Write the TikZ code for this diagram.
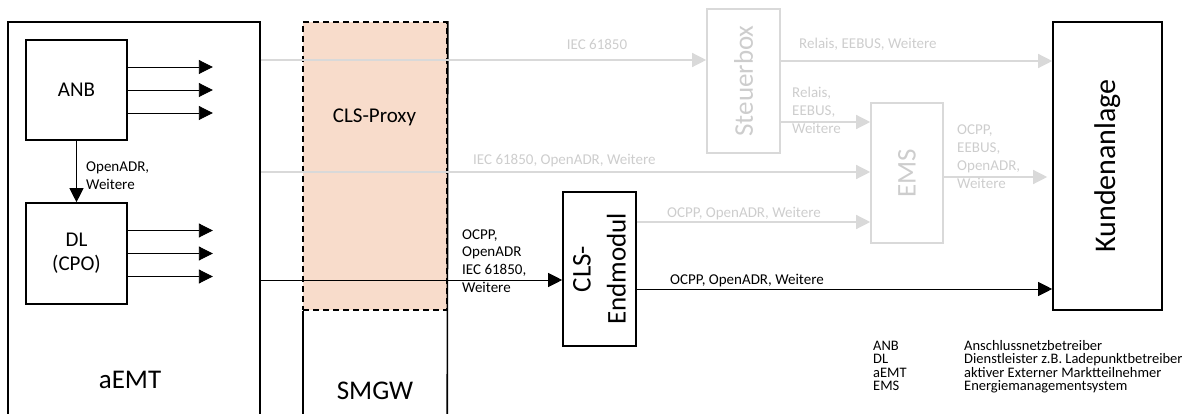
\documentclass[tikz,border=0pt]{standalone}
\usepackage{fontspec}
\setmainfont{Carlito}
\usetikzlibrary{arrows.meta}

\definecolor{proxyfill}{HTML}{F8DCCB}
\definecolor{lightline}{HTML}{D9D9D9}
\definecolor{lighttext}{HTML}{CDCDCD}

\tikzset{
  blackbox/.style={draw, line width=1.6pt, inner sep=0pt},
  greybox/.style={draw=lightline, line width=1.6pt, inner sep=0pt},
  smalltxt/.style={font=\fontsize{15}{18}\selectfont, align=left, inner sep=0pt},
  greytxt/.style={smalltxt, text=lighttext},
  legendtxt/.style={font=\fontsize{14.5}{13.5}\selectfont, align=left, inner sep=0pt},
  midtxt/.style={font=\fontsize{21}{24}\selectfont, align=center},
  bigtxt/.style={font=\fontsize{27}{35}\selectfont, align=center, inner sep=0pt},
  arr/.style={-{Triangle[length=14pt,width=14pt]}, line width=0.9pt},
  greyarr/.style={-{Triangle[length=14pt,width=14pt]}, draw=lightline, line width=1.3pt},
}

\begin{document}
\begin{tikzpicture}[x=1pt,y=-1pt]

\clip (0,0) rectangle (1203,414);

\node[blackbox, minimum width=252pt, minimum height=420pt] (aemt) at (134,232) {};
\node[bigtxt, anchor=base] (aemtlbl) at (130,388) {aEMT};

\node[blackbox, midtxt, minimum width=101pt, minimum height=100pt] (anb) at (76.5,90) {ANB};
\node[blackbox, midtxt, minimum width=101pt, minimum height=101pt] (dl) at (76.5,253.5) {DL\\(CPO)};

\foreach \i/\dy in {1/23,2/0,3/-23}{
  \coordinate (anbout\i) at ([xshift=85pt,yshift=\dy pt]anb.east);
  \draw[arr] ([yshift=\dy pt]anb.east) -- (anbout\i);
  \coordinate (dlout\i) at ([xshift=85pt,yshift=\dy pt]dl.east);
  \draw[arr] ([yshift=\dy pt]dl.east) -- (dlout\i);
}

\draw[arr] (anb) -- (dl);
\node[smalltxt, anchor=base west] (anbdl) at (86,190) {OpenADR,\\Weitere};

\node[minimum width=144pt, minimum height=288pt, inner sep=0pt, fill=proxyfill,
  draw, line width=1.6pt, dash pattern=on 6pt off 4pt] (proxy) at (375,166) {};
\node[midtxt] (proxylbl) at (374.5,117) {CLS-Proxy};
\node[minimum width=144pt, minimum height=130pt, inner sep=0pt, anchor=north] (smgw) at (proxy.south) {};
\draw[line width=1.6pt] (smgw.north west) -- (smgw.south west);
\draw[line width=1.6pt] (proxy.north east) -- (smgw.south east);
\node[bigtxt, anchor=base] (smgwlbl) at (375,399) {SMGW};

\node[greybox, minimum width=73pt, minimum height=144pt] (steuer) at (743.5,81) {};
\node[bigtxt, rotate=90, text=lighttext] (steuerlbl) at (steuer) {Steuerbox};

\node[greybox, minimum width=72pt, minimum height=140pt] (ems) at (907,173) {};
\node[bigtxt, rotate=90, text=lighttext] (emslbl) at (ems) {EMS};

\node[blackbox, minimum width=73pt, minimum height=154pt] (cls) at (599.5,269) {};
\node[bigtxt, rotate=90] (clslbl) at (cls) {CLS-\\Endmodul};

\node[blackbox, minimum width=109pt, minimum height=288pt] (kunden) at (1107.5,166) {};
\node[bigtxt, font=\fontsize{30}{36}\selectfont, rotate=90] (kundenlbl) at (kunden) {Kundenanlage};

\draw[greyarr] (aemt.east |- 0,60) -- (steuer.west |- 0,60);
\draw[greyarr] (steuer.east |- 0,61) -- (kunden.west |- 0,61);
\draw[greyarr] (steuer.east |- 0,122) -- (ems.west |- 0,122);
\draw[greyarr] (aemt.east |- 0,172) -- (ems.west |- 0,172);
\draw[greyarr] (cls.east |- 0,222) -- (ems.west |- 0,222);
\draw[greyarr, shorten >=5pt] (ems.east |- 0,177) -- (kunden.west |- 0,177);

\draw[arr] (aemt.east |- 0,280) -- (cls.west |- 0,280);
\draw[arr] (cls.east |- 0,289) -- (kunden.west |- 0,289);

\node[greytxt, anchor=base] (iecone) at (597,50) {IEC 61850};
\node[greytxt, anchor=base west] (relone) at (799,49) {Relais, EEBUS, Weitere};
\node[greytxt, anchor=base west] (reltwo) at (792,134) {Relais,\\EEBUS,\\Weitere};
\node[greytxt, anchor=base west] (iectwo) at (473,165) {IEC 61850, OpenADR, Weitere};
\node[greytxt, anchor=base west] (ocppone) at (667,218) {OCPP, OpenADR, Weitere};
\node[greytxt, anchor=base west] (ocpptwo) at (957,189) {OCPP,\\EEBUS,\\OpenADR,\\Weitere};
\node[smalltxt, anchor=base west] (ocppthree) at (462,293) {OCPP,\\OpenADR\\IEC 61850,\\Weitere};
\node[smalltxt, anchor=base west] (ocppfour) at (670,285) {OCPP, OpenADR, Weitere};

\node[legendtxt, anchor=base west] (legabbr) at (873,390.5) {ANB\\DL\\aEMT\\EMS};
\node[legendtxt, anchor=base west] (legdef) at (964,390.5) {Anschlussnetzbetreiber\\Dienstleister z.B. Ladepunktbetreiber\\aktiver Externer Marktteilnehmer\\Energiemanagementsystem};

\end{tikzpicture}
\end{document}
